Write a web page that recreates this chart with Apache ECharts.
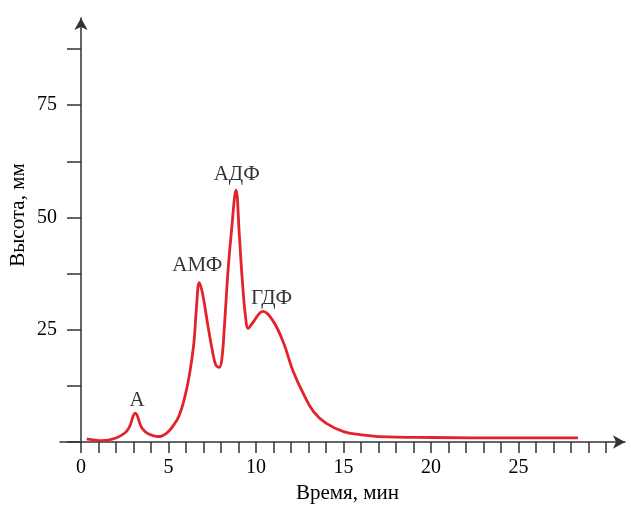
<!DOCTYPE html>
<html>
<head>
<meta charset="utf-8">
<script src="https://cdn.jsdelivr.net/npm/echarts@6/dist/echarts.min.js"></script>
<style>
  html, body { margin: 0; padding: 0; background: #fff; }
  #chart { width: 631px; height: 505px; }
</style>
</head>
<body>
<div id="chart"></div>
<script>
// retention time (min) and peak height (mm)
const timeMin = [0.33, 1.2, 2.0, 2.5, 2.75, 3.1, 3.5, 3.9, 4.4, 4.9, 5.3, 5.6, 5.9, 6.2, 6.45, 6.6, 6.76, 6.95,
  7.25, 7.5, 7.7, 7.9, 8.05, 8.2, 8.4, 8.6, 8.86, 9.05, 9.2, 9.4, 9.56, 9.8, 10.4, 11.0, 11.6, 12.1, 12.7,
  13.3, 14.0, 15.0, 16.0, 17.0, 20, 25, 28.4];
const heightMm = [0.7, 0.3, 0.9, 2.0, 3.2, 6.4, 3.0, 1.7, 1.2, 2.0, 3.8, 5.8, 9.5, 15, 22, 30, 35.5, 33,
  26, 20.5, 17.2, 16.6, 18.5, 26, 38, 47, 56.1, 46, 37, 28, 25.3, 26.5, 29.1, 26.8, 21.8, 16, 10.8,
  6.7, 4.2, 2.3, 1.6, 1.2, 1.0, 0.9, 0.9];

// peak names and where they sit
const peakNames = ['А', 'АМФ', 'АДФ', 'ГДФ'];
const peakX = [3.2, 6.65, 8.9, 10.89];
const peakY = [9.2, 39.2, 59.5, 32.0];

const xTicks = [0, 1, 2, 3, 4, 5, 6, 7, 8, 9, 10, 11, 12, 13, 14, 15, 16, 17, 18, 19, 20,
  21, 22, 23, 24, 25, 26, 27, 28, 29, 30];
const xLabels = [0, 5, 10, 15, 20, 25];
const yTicks = [0, 12.5, 25, 37.5, 50, 62.5, 75, 87.5];
const yLabels = [25, 50, 75];

const font = 'Liberation Serif';
const axisColor = '#333';
const textColor = '#000';

const chart = echarts.init(document.getElementById('chart'));

const option = {
  animation: false,
  grid: { left: 60, right: 6, top: 18, bottom: 63, containLabel: false, outerBoundsMode: 'none' },
  xAxis: {
    type: 'value',
    min: -1.2,
    max: 31.09,
    name: 'Время, мин',
    nameLocation: 'middle',
    nameGap: 40,
    nameTextStyle: { fontFamily: font, fontSize: 21, color: textColor, padding: [0, 0, 0, 10] },
    axisLine: { show: true, symbol: ['none', 'arrow'], symbolSize: [10, 12],
      lineStyle: { color: axisColor, width: 1.5 } },
    axisTick: { show: true, length: 11, customValues: xTicks, lineStyle: { color: axisColor, width: 1.5 } },
    axisLabel: { customValues: xLabels, margin: 16, fontFamily: font, fontSize: 20, color: textColor },
    splitLine: { show: false }
  },
  yAxis: {
    type: 'value',
    min: 0,
    max: 94.4,
    name: 'Высота, мм',
    nameLocation: 'middle',
    nameGap: 31,
    nameMoveOverlap: false,
    nameTextStyle: { fontFamily: font, fontSize: 21, color: textColor, padding: [0, 0, 0, 30] },
    axisLine: { show: true, symbol: ['none', 'arrow'], symbolSize: [10, 12],
      lineStyle: { color: axisColor, width: 1.5 } },
    axisTick: { show: true, length: 14, customValues: yTicks, lineStyle: { color: axisColor, width: 1.5 } },
    axisLabel: { customValues: yLabels, margin: 3, fontFamily: font, fontSize: 20, color: textColor },
    splitLine: { show: false }
  },
  series: [
    {
      type: 'line',
      data: timeMin.map((t, i) => [t, heightMm[i]]),
      smooth: 0.4,
      showSymbol: false,
      lineStyle: { color: '#e3222b', width: 2.8 }
    },
    {
      type: 'scatter',
      data: peakX.map((x, i) => [x, peakY[i], peakNames[i]]),
      symbolSize: 0,
      label: {
        show: true,
        position: 'inside',
        formatter: p => p.value[2],
        fontFamily: font,
        fontSize: 21,
        color: textColor
      }
    }
  ]
};

chart.setOption(option);
</script>
</body>
</html>
